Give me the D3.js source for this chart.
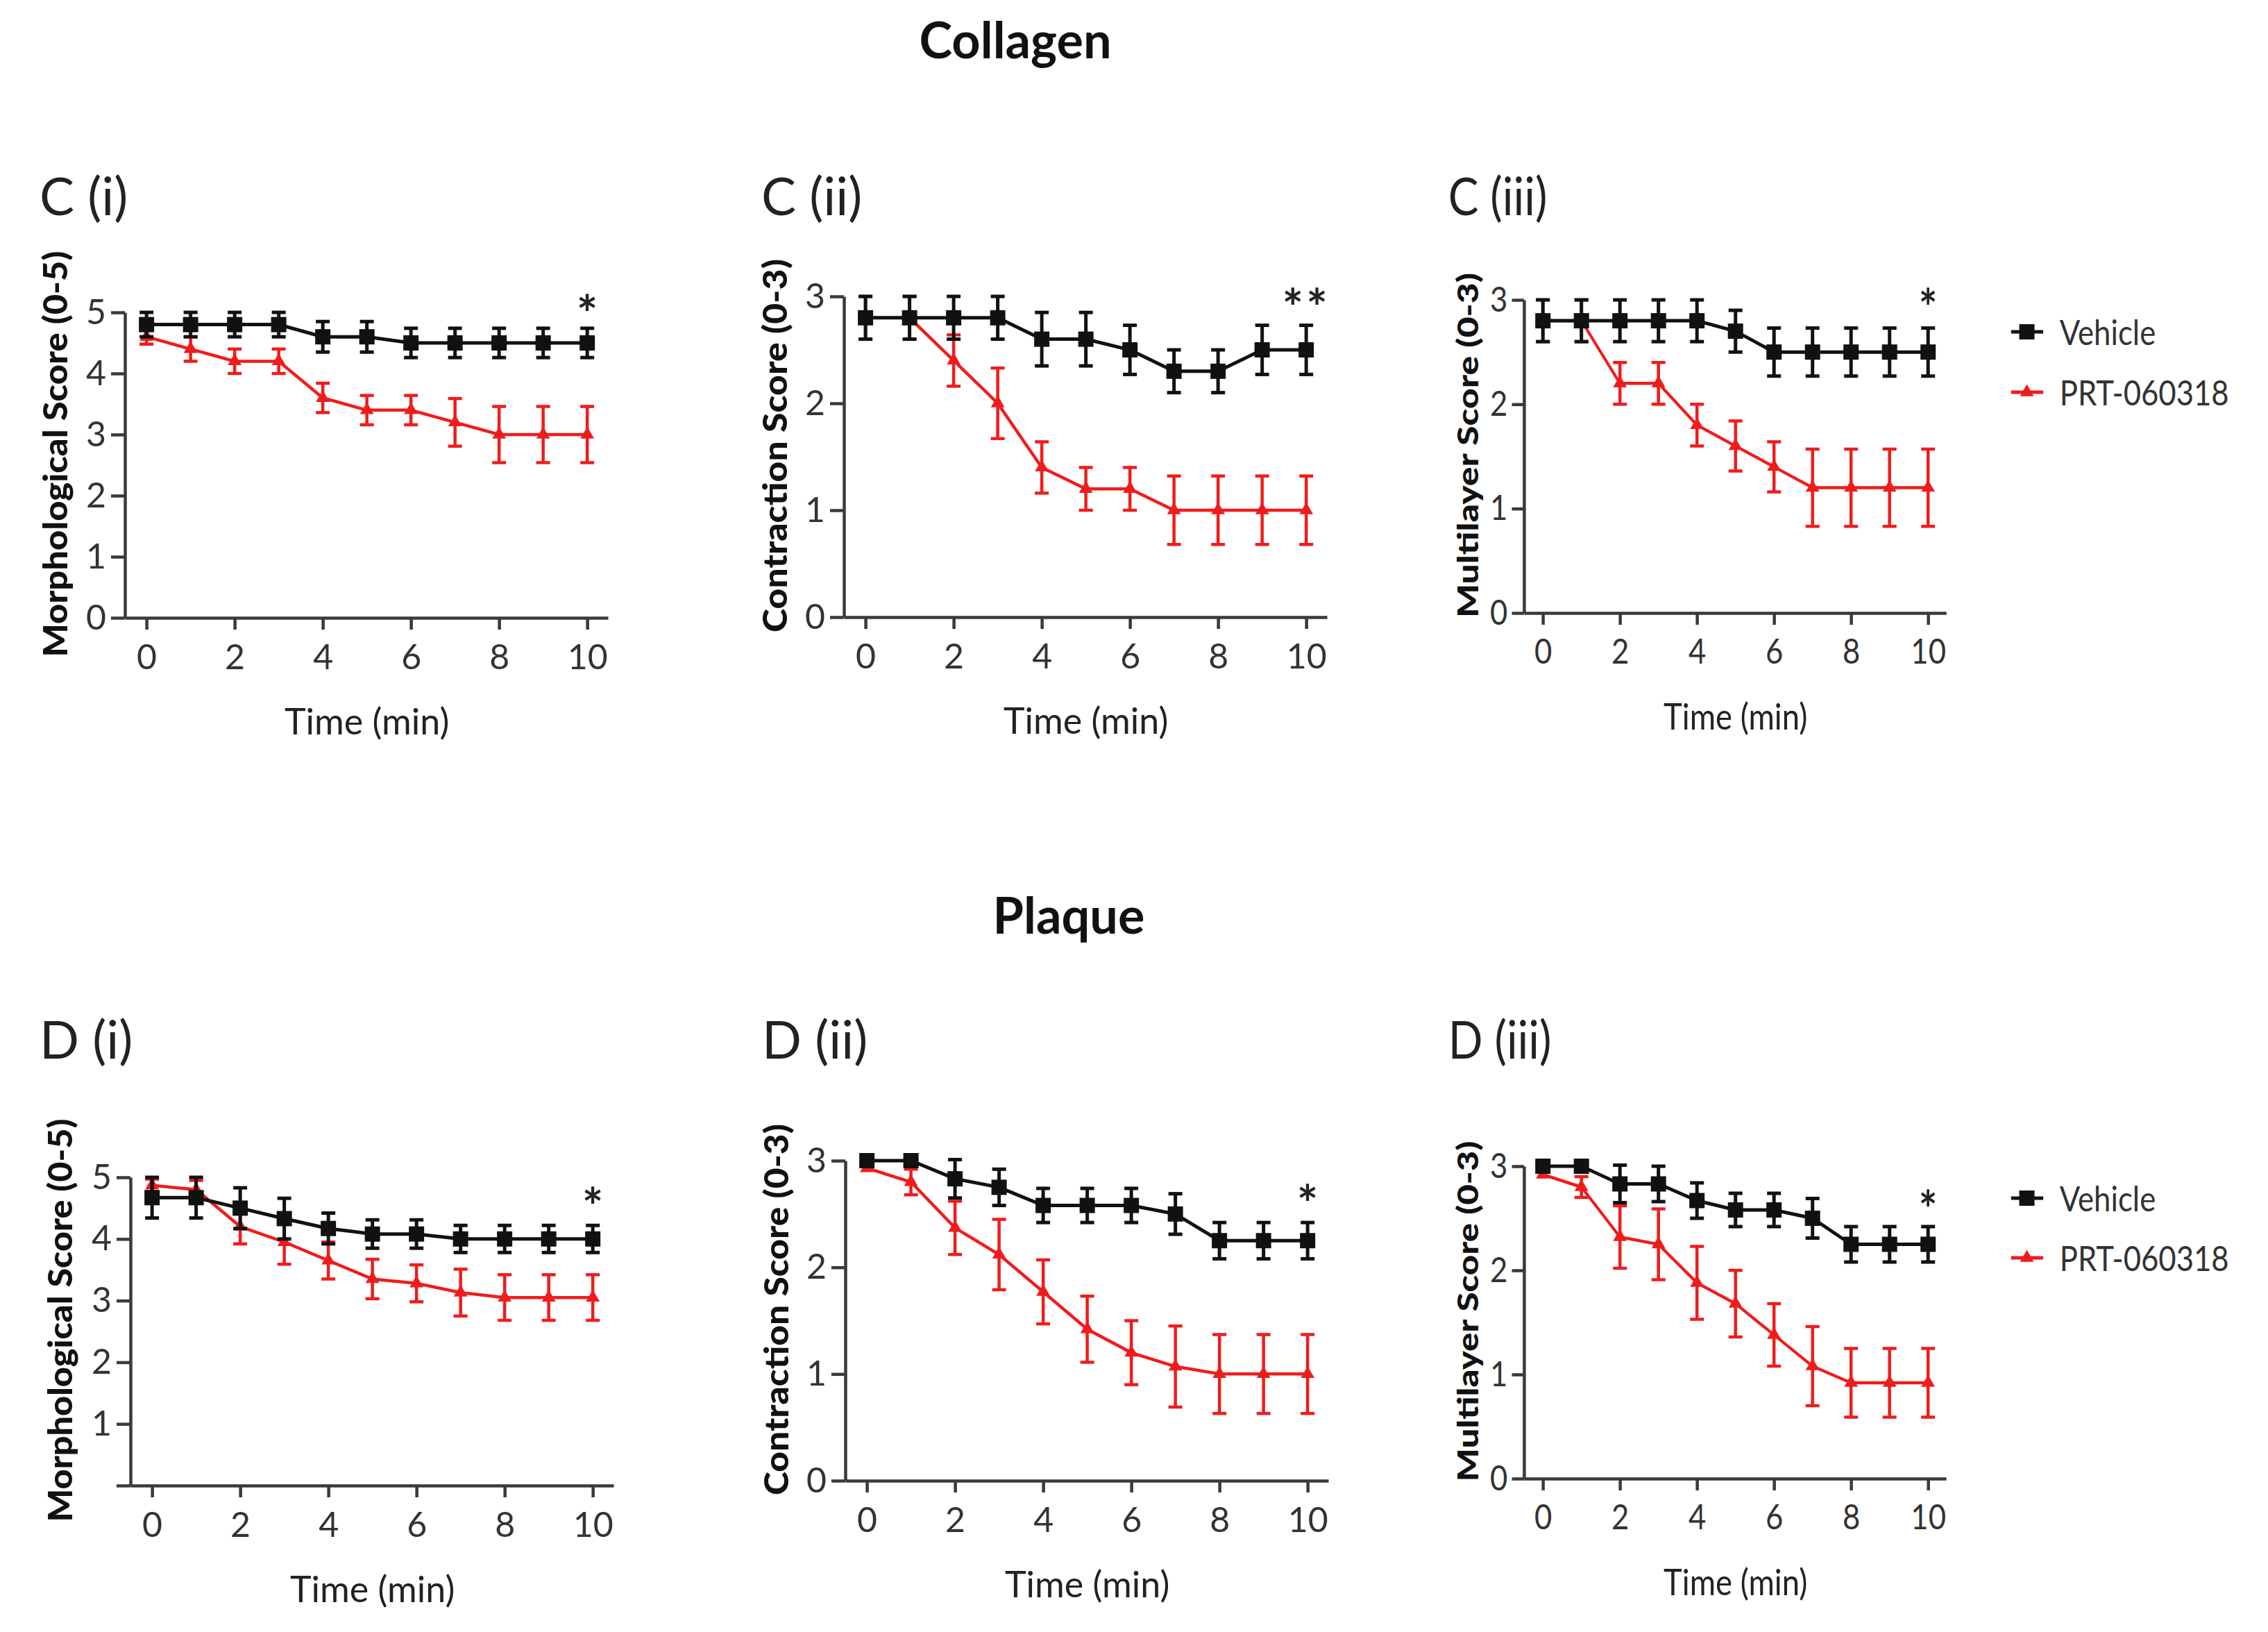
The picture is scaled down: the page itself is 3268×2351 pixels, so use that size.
<!DOCTYPE html>
<html>
<head>
<meta charset="utf-8">
<script src="https://cdn.jsdelivr.net/npm/d3@7"></script>
<style>
  body { margin: 0; background: #fff; }
  svg text { font-family: Lato, "Open Sans", sans-serif; }
</style>
</head>
<body>
<svg id="fig" width="3268" height="2351"></svg>
<script>
// ---- data ----
const time = [0, 1, 2, 3, 4, 5, 6, 7, 8, 9, 10];
const xTicks = [0, 2, 4, 6, 8, 10];
const seriesNames = ['Vehicle', 'PRT-060318'];

// Collagen
const cMorphVeh    = [4.8, 4.8, 4.8, 4.8, 4.6, 4.6, 4.5, 4.5, 4.5, 4.5, 4.5];
const cMorphVehErr = [0.2, 0.2, 0.2, 0.2, 0.25, 0.25, 0.24, 0.24, 0.24, 0.24, 0.24];
const cMorphPrt    = [4.6, 4.4, 4.2, 4.2, 3.6, 3.4, 3.4, 3.2, 3.0, 3.0, 3.0];
const cMorphPrtErr = [0.12, 0.2, 0.2, 0.2, 0.24, 0.24, 0.24, 0.39, 0.46, 0.46, 0.46];

const cContVeh     = [2.8, 2.8, 2.8, 2.8, 2.6, 2.6, 2.5, 2.3, 2.3, 2.5, 2.5];
const cContVehErr  = [0.2, 0.2, 0.2, 0.2, 0.25, 0.25, 0.23, 0.2, 0.2, 0.23, 0.23];
const cContPrt     = [2.8, 2.8, 2.4, 2.0, 1.4, 1.2, 1.2, 1.0, 1.0, 1.0, 1.0];
const cContPrtErr  = [0.2, 0.2, 0.24, 0.33, 0.24, 0.2, 0.2, 0.32, 0.32, 0.32, 0.32];

const cMultiVeh    = [2.8, 2.8, 2.8, 2.8, 2.8, 2.7, 2.5, 2.5, 2.5, 2.5, 2.5];
const cMultiVehErr = [0.2, 0.2, 0.2, 0.2, 0.2, 0.2, 0.23, 0.23, 0.23, 0.23, 0.23];
const cMultiPrt    = [2.8, 2.8, 2.2, 2.2, 1.8, 1.6, 1.4, 1.2, 1.2, 1.2, 1.2];
const cMultiPrtErr = [0.2, 0.2, 0.2, 0.2, 0.2, 0.24, 0.24, 0.37, 0.37, 0.37, 0.37];

// Plaque
const dMorphVeh    = [4.67, 4.67, 4.5, 4.33, 4.17, 4.08, 4.08, 4.0, 4.0, 4.0, 4.0];
const dMorphVehErr = [0.33, 0.33, 0.33, 0.33, 0.25, 0.23, 0.23, 0.22, 0.22, 0.22, 0.22];
const dMorphPrt    = [4.87, 4.8, 4.2, 3.95, 3.65, 3.35, 3.28, 3.13, 3.05, 3.05, 3.05];
const dMorphPrtErr = [0.1, 0.15, 0.28, 0.36, 0.3, 0.32, 0.3, 0.38, 0.37, 0.37, 0.37];

const dContVeh     = [3.0, 3.0, 2.83, 2.75, 2.58, 2.58, 2.58, 2.5, 2.25, 2.25, 2.25];
const dContVehErr  = [0, 0, 0.18, 0.17, 0.16, 0.16, 0.16, 0.19, 0.17, 0.17, 0.17];
const dContPrt     = [2.93, 2.8, 2.37, 2.12, 1.77, 1.42, 1.2, 1.07, 1.0, 1.0, 1.0];
const dContPrtErr  = [0, 0.12, 0.25, 0.33, 0.3, 0.31, 0.3, 0.38, 0.37, 0.37, 0.37];

const dMultiVeh    = [3.0, 3.0, 2.83, 2.83, 2.67, 2.58, 2.58, 2.5, 2.25, 2.25, 2.25];
const dMultiVehErr = [0, 0, 0.18, 0.17, 0.17, 0.16, 0.16, 0.19, 0.17, 0.17, 0.17];
const dMultiPrt    = [2.92, 2.8, 2.32, 2.25, 1.88, 1.68, 1.38, 1.08, 0.92, 0.92, 0.92];
const dMultiPrtErr = [0, 0.1, 0.3, 0.34, 0.35, 0.32, 0.3, 0.38, 0.33, 0.33, 0.33];

const morphTicks = [0, 1, 2, 3, 4, 5];
const scoreTicks = [0, 1, 2, 3];
const morphTickLabelsD = ['', '1', '2', '3', '4', '5'];

const COLORS = { veh: '#111', prt: '#f01c1c', axis: '#3a3a3a' };

// ---- layout of the six panels ----
const PANELS = [
  { label: 'C (i)',   left: 180,  top: 450,  bottom: 890,  w: 696, sx: 1,     labelX: -123, labelY: 310,
    yMax: 5, ticks: morphTicks, tickLabels: null, yTitle: 'Morphological Score (0-5)', yTitleLen: 585, yTitleX: -101,
    veh: cMorphVeh, vehErr: cMorphVehErr, prt: cMorphPrt, prtErr: cMorphPrtErr, sig: '*', sigY: 5.1 },
  { label: 'C (ii)',  left: 1216, top: 427,  bottom: 889,  w: 696, sx: 1,     labelX: -119, labelY: 310,
    yMax: 3, ticks: scoreTicks, tickLabels: null, yTitle: 'Contraction Score (0-3)', yTitleLen: 538, yTitleX: -100,
    veh: cContVeh, vehErr: cContVehErr, prt: cContPrt, prtErr: cContPrtErr, sig: '**', sigY: 2.97 },
  { label: 'C (iii)', left: 2196, top: 432,  bottom: 883,  w: 696, sx: 0.874, labelX: -125, labelY: 310,
    yMax: 3, ticks: scoreTicks, tickLabels: null, yTitle: 'Multilayer Score (0-3)', yTitleLen: 497, yTitleX: -94,
    veh: cMultiVeh, vehErr: cMultiVehErr, prt: cMultiPrt, prtErr: cMultiPrtErr, sig: '*', sigY: 3.0, legendY: [478, 565] },
  { label: 'D (i)',   left: 188,  top: 1696, bottom: 2140, w: 696, sx: 1,     labelX: -131, labelY: 1525,
    yMax: 5, ticks: morphTicks, tickLabels: morphTickLabelsD, yTitle: 'Morphological Score (0-5)', yTitleLen: 581, yTitleX: -102,
    veh: dMorphVeh, vehErr: dMorphVehErr, prt: dMorphPrt, prtErr: dMorphPrtErr, sig: '*', sigY: 4.65 },
  { label: 'D (ii)',  left: 1218, top: 1672, bottom: 2133, w: 696, sx: 1,     labelX: -120, labelY: 1525,
    yMax: 3, ticks: scoreTicks, tickLabels: null, yTitle: 'Contraction Score (0-3)', yTitleLen: 535, yTitleX: -100,
    veh: dContVeh, vehErr: dContVehErr, prt: dContPrt, prtErr: dContPrtErr, sig: '*', sigY: 2.67 },
  { label: 'D (iii)', left: 2196, top: 1680, bottom: 2130, w: 696, sx: 0.874, labelX: -125, labelY: 1525,
    yMax: 3, ticks: scoreTicks, tickLabels: null, yTitle: 'Multilayer Score (0-3)', yTitleLen: 491, yTitleX: -94,
    veh: dMultiVeh, vehErr: dMultiVehErr, prt: dMultiPrt, prtErr: dMultiPrtErr, sig: '*', sigY: 2.66, legendY: [1726, 1812] }
];

const svg = d3.select('#fig');

svg.append('text').attr('x', 1463).attr('y', 84).attr('text-anchor', 'middle')
  .attr('font-size', 72).attr('font-weight', 'bold').attr('fill', '#111').text('Collagen');
svg.append('text').attr('x', 1540).attr('y', 1345).attr('text-anchor', 'middle')
  .attr('font-size', 72).attr('font-weight', 'bold').attr('fill', '#111').text('Plaque');

const squareSym = d3.symbol(d3.symbolSquare).size(22 * 22);
const triSym = d3.symbol(d3.symbolTriangle).size(170);

function drawSeries(g, x, y, vals, errs, color, sym, p, sw) {
  const cap = 10 / p.sx;
  const line = d3.line().x((d, i) => x(time[i])).y(d => y(d));
  g.append('path').datum(vals).attr('d', line)
    .attr('fill', 'none').attr('stroke', color).attr('stroke-width', sw);

  const bars = g.append('g').attr('stroke', color).attr('stroke-width', sw);
  vals.forEach((v, i) => {
    const e = errs[i];
    if (!e) return;
    const cx = x(time[i]);
    bars.append('line').attr('x1', cx).attr('x2', cx).attr('y1', y(v - e)).attr('y2', y(v + e))
      .attr('stroke-width', sw / p.sx);
    bars.append('line').attr('x1', cx - cap).attr('x2', cx + cap).attr('y1', y(v + e)).attr('y2', y(v + e));
    bars.append('line').attr('x1', cx - cap).attr('x2', cx + cap).attr('y1', y(v - e)).attr('y2', y(v - e));
  });

  g.append('g').selectAll('path').data(vals).join('path')
    .attr('d', sym)
    .attr('transform', (d, i) => `translate(${x(time[i])},${y(d)}) scale(${1 / p.sx},1)`)
    .attr('fill', color);
}

function drawPanel(p) {
  const g = svg.append('g').attr('transform', `translate(${p.left},0) scale(${p.sx},1)`);
  const x = d3.scaleLinear().domain([-0.49, 10.47]).range([0, p.w]);
  const y = d3.scaleLinear().domain([0, p.yMax]).range([p.bottom, p.top]);

  // panel letter
  g.append('text').attr('x', p.labelX).attr('y', p.labelY)
    .attr('font-size', 75).attr('fill', '#222').text(p.label);

  // axes
  const xAxis = d3.axisBottom(x).tickValues(xTicks).tickSize(17).tickSizeOuter(0).tickPadding(21);
  const gx = g.append('g').attr('transform', `translate(0,${p.bottom})`).call(xAxis);
  const yAxis = d3.axisLeft(y).tickValues(p.ticks).tickSize(20).tickSizeOuter(0).tickPadding(7)
    .tickFormat((d, i) => p.tickLabels ? p.tickLabels[i] : d);
  const gy = g.append('g').call(yAxis);

  [gx, gy].forEach(ax => {
    ax.selectAll('path.domain, .tick line').attr('stroke', COLORS.axis).attr('stroke-width', 4.5);
    ax.selectAll('.tick text').attr('font-size', 50).attr('fill', '#333')
      .style('font-family', 'Lato, "Open Sans", sans-serif');
    ax.attr('font-family', null).attr('font-size', null);
  });
  gy.select('path.domain').attr('stroke-width', 4.5 / p.sx);
  gx.selectAll('.tick line').attr('stroke-width', 4.5 / p.sx);

  // axis titles
  g.append('text').attr('x', x(5)).attr('y', p.bottom + 168).attr('text-anchor', 'middle')
    .attr('font-size', 52).attr('fill', '#222').text('Time (min)');
  const cy = (p.top + p.bottom) / 2 - 16;
  g.append('text')
    .attr('transform', `translate(${p.yTitleX},${cy}) rotate(-90)`)
    .attr('text-anchor', 'middle').attr('dominant-baseline', 'central')
    .attr('font-size', 47).attr('font-weight', 900).attr('fill', '#111')
    .attr('textLength', p.yTitleLen).attr('lengthAdjust', 'spacingAndGlyphs')
    .text(p.yTitle);

  // series: PRT under, vehicle on top
  drawSeries(g, x, y, p.prt, p.prtErr, COLORS.prt, triSym, p, 4.5);
  drawSeries(g, x, y, p.veh, p.vehErr, COLORS.veh, squareSym, p, 5);

  // significance mark
  g.append('text').attr('x', x(10)).attr('y', y(p.sigY) + 38).attr('text-anchor', 'middle')
    .attr('font-size', 72).attr('font-weight', 'bold').attr('letter-spacing', p.sig.length > 1 ? 4 : 0)
    .attr('fill', '#222').text(p.sig);

  // legend
  if (p.legendY) {
    const leg = g.append('g');
    const items = [
      { name: seriesNames[0], color: COLORS.veh, sym: squareSym, y: p.legendY[0] },
      { name: seriesNames[1], color: COLORS.prt, sym: triSym, y: p.legendY[1] }
    ];
    items.forEach(it => {
      leg.append('line').attr('x1', 803).attr('x2', 856).attr('y1', it.y).attr('y2', it.y)
        .attr('stroke', it.color).attr('stroke-width', 5);
      leg.append('path').attr('d', it.sym).attr('fill', it.color)
        .attr('transform', `translate(829,${it.y}) scale(${1 / p.sx},1)`);
      leg.append('text').attr('x', 883).attr('y', it.y).attr('dominant-baseline', 'central')
        .attr('font-size', 50).attr('fill', '#333').text(it.name);
    });
  }
}

PANELS.forEach(drawPanel);
</script>
</body>
</html>
